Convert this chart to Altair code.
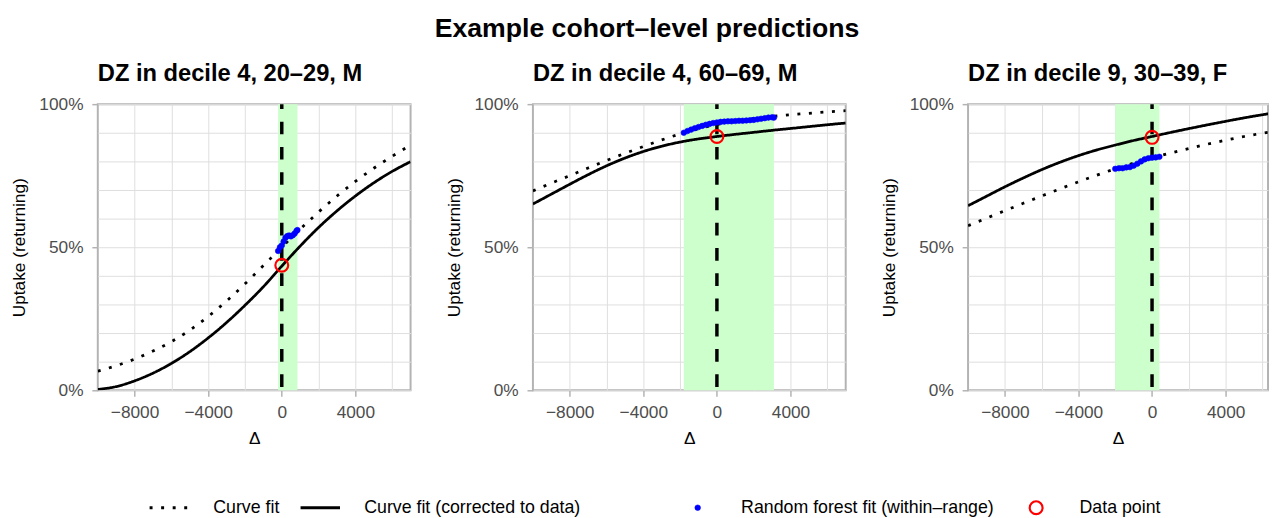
import altair as alt
import pandas as pd

FONT = "Liberation Sans"

MAIN_TITLE = "Example cohort–level predictions"
PANEL_TITLES = [
    "DZ in decile 4, 20–29, M",
    "DZ in decile 4, 60–69, M",
    "DZ in decile 9, 30–39, F",
]
CURVE_NAMES = ["Curve fit", "Curve fit (corrected to data)"]
POINT_NAMES = ["Random forest fit (within–range)", "Data point"]

X_CURVE = [-10000, -9000, -8000, -7000, -6000, -5000, -4000, -3000, -2000,
           -1000, 0, 1000, 2000, 3000, 4000, 5000, 6000, 7000]

P1_CURVE_FIT = [0.067, 0.086, 0.109, 0.137, 0.170, 0.210, 0.258, 0.312, 0.372,
                0.436, 0.500, 0.563, 0.623, 0.679, 0.730, 0.776, 0.818, 0.857]
P1_CORRECTED = [0.003, 0.013, 0.033, 0.060, 0.094, 0.135, 0.183, 0.237, 0.297,
                0.362, 0.434, 0.504, 0.569, 0.627, 0.679, 0.725, 0.765, 0.799]
P2_CURVE_FIT = [0.697, 0.724, 0.750, 0.777, 0.803, 0.828, 0.852, 0.875, 0.896,
                0.914, 0.929, 0.941, 0.950, 0.957, 0.963, 0.968, 0.973, 0.977]
P2_CORRECTED = [0.651, 0.6855, 0.720, 0.7535, 0.7845, 0.8115, 0.8345, 0.853,
                0.8675, 0.8785, 0.887, 0.8945, 0.9015, 0.9085, 0.915, 0.9215,
                0.928, 0.934]
P3_CURVE_FIT = [0.575, 0.6015, 0.6275, 0.6535, 0.679, 0.704, 0.7285, 0.752,
                0.774, 0.794, 0.812, 0.829, 0.845, 0.860, 0.874, 0.887,
                0.8985, 0.9085]
P3_CORRECTED = [0.645, 0.678, 0.711, 0.742, 0.771, 0.797, 0.820, 0.840, 0.857,
                0.873, 0.887, 0.901, 0.9145, 0.9275, 0.940, 0.952, 0.963,
                0.973]

# random forest predictions (within the observed range)
P1_RF_X = [-200, -100, 0, 100, 200, 300, 400, 500, 600, 700, 800, 850]
P1_RF_Y = [0.487, 0.500, 0.506, 0.520, 0.533, 0.539, 0.541, 0.538, 0.542,
           0.548, 0.557, 0.560]
P2_RF_X = [-1800, -1600, -1400, -1200, -1000, -800, -600, -400, -200, 0,
           200, 400, 600, 800, 1000, 1200, 1400, 1600, 1800, 2000, 2200,
           2400, 2600, 2800, 3000, 3100]
P2_RF_Y = [0.900, 0.906, 0.911, 0.916, 0.920, 0.924, 0.928, 0.931, 0.934,
           0.936, 0.938, 0.939, 0.940, 0.940, 0.941, 0.942, 0.942, 0.943,
           0.944, 0.945, 0.947, 0.949, 0.951, 0.953, 0.954, 0.953]
P3_RF_X = [-2000, -1800, -1600, -1400, -1200, -1000, -800, -600, -400, -200,
           0, 200, 400]
P3_RF_Y = [0.774, 0.776, 0.776, 0.779, 0.780, 0.785, 0.792, 0.800, 0.807,
           0.811, 0.813, 0.814, 0.816]

RANGE_LO = [-200, -1800, -2000]
RANGE_HI = [850, 3100, 400]
DATA_Y = [0.437, 0.887, 0.884]

X_MIN = -10000
X_MAX = [7000, 7000, 6303]   # third panel is cut off at the right edge
X_TICKS = [-8000, -6000, -4000, -2000, 0, 2000, 4000, 6000]
Y_TICKS = [0, 0.1, 0.2, 0.3, 0.4, 0.5, 0.6, 0.7, 0.8, 0.9, 1]

FITS = [P1_CURVE_FIT, P2_CURVE_FIT, P3_CURVE_FIT]
CORRS = [P1_CORRECTED, P2_CORRECTED, P3_CORRECTED]
RF_X = [P1_RF_X, P2_RF_X, P3_RF_X]
RF_Y = [P1_RF_Y, P2_RF_Y, P3_RF_Y]
WIDTHS = [317, 317, 304]

x_axis = alt.Axis(
    values=X_TICKS, format="d", labelFlush=False,
    labelExpr="datum.value % 4000 === 0 ? datum.label : ''",
    tickOpacity={"condition": {"test": "datum.value % 4000 === 0", "value": 1}, "value": 0},
    labelPadding=8, titlePadding=8,
)
y_axis = alt.Axis(
    values=Y_TICKS, format=".0%", labelFlush=False,
    labelExpr="(datum.value == 0 || datum.value == 0.5 || datum.value == 1) ? datum.label : ''",
    tickOpacity={"condition": {"test": "datum.value == 0 || datum.value == 0.5 || datum.value == 1", "value": 1}, "value": 0},
    labelPadding=9, titlePadding=11,
)

legend_lines = alt.Legend(
    title=None, orient="none", legendX=51, legendY=401, direction="horizontal",
    symbolType="stroke", symbolSize=1600, symbolStrokeWidth=3, symbolStrokeColor="black",
    labelFont=FONT, labelFontSize=18, labelColor="black", labelOffset=23,
    labelLimit=400, columnPadding=19, clipHeight=16, padding=0,
)
legend_points = alt.Legend(
    title=None, orient="none", legendX=599, legendY=401, direction="horizontal",
    symbolType="circle", labelFont=FONT, labelFontSize=18, labelColor="black",
    labelOffset=35, labelLimit=400, columnPadding=33, clipHeight=16, padding=0,
)


def panel(i):
    xscale = alt.Scale(domain=[X_MIN, X_MAX[i]], nice=False, zero=False)
    yscale = alt.Scale(domain=[0, 1], nice=False)
    xenc = alt.X("delta:Q", scale=xscale, axis=x_axis, title="Δ")
    yenc = alt.Y("uptake:Q", scale=yscale, axis=y_axis, title="Uptake (returning)")

    band_df = pd.DataFrame({"lo": [RANGE_LO[i]], "hi": [RANGE_HI[i]]})
    zero_df = pd.DataFrame({"delta": [0]})
    curve_df = pd.DataFrame({
        "delta": X_CURVE + X_CURVE,
        "uptake": FITS[i] + CORRS[i],
        "curve": [CURVE_NAMES[0]] * len(X_CURVE) + [CURVE_NAMES[1]] * len(X_CURVE),
    })
    pts_df = pd.DataFrame({
        "delta": RF_X[i] + [0],
        "uptake": RF_Y[i] + [DATA_Y[i]],
        "pt": [POINT_NAMES[0]] * len(RF_X[i]) + [POINT_NAMES[1]],
    })

    band = alt.Chart(band_df).mark_rect(color="#CCFFCC").encode(
        x=alt.X("lo:Q", scale=xscale, axis=x_axis, title="Δ"), x2="hi:Q"
    )
    vline = alt.Chart(zero_df).mark_rule(
        color="black", strokeWidth=3.5, strokeDash=[12.8, 12.8], strokeDashOffset=7.8
    ).encode(x=xenc)
    lines = alt.Chart(curve_df).mark_line(
        color="black", strokeWidth=2.8, clip=True, interpolate="monotone"
    ).encode(
        x=xenc, y=yenc,
        strokeDash=alt.StrokeDash(
            "curve:N",
            scale=alt.Scale(domain=CURVE_NAMES, range=[[3, 8.7], [1, 0]]),
            legend=legend_lines,
        ),
    )
    points = alt.Chart(pts_df).mark_point(shape="circle", opacity=1, filled=False).encode(
        x=xenc, y=yenc,
        stroke=alt.Stroke("pt:N", scale=alt.Scale(domain=POINT_NAMES, range=["#0000FF", "#FF0000"]), legend=legend_points),
        fill=alt.Fill("pt:N", scale=alt.Scale(domain=POINT_NAMES, range=["#0000FF", "transparent"]), legend=legend_points),
        size=alt.Size("pt:N", scale=alt.Scale(domain=POINT_NAMES, range=[32, 170]), legend=legend_points),
        strokeWidth=alt.StrokeWidth("pt:N", scale=alt.Scale(domain=POINT_NAMES, range=[0.6, 2.2]), legend=legend_points),
    )
    return alt.layer(band, vline, lines, points).properties(
        width=WIDTHS[i], height=290,
        title=alt.TitleParams(
            PANEL_TITLES[i], anchor="start", frame="group", fontSize=24,
            fontWeight="bold", font=FONT, color="black", offset=9,
        ),
    )


chart = alt.hconcat(panel(0), panel(1), panel(2), spacing=33).resolve_scale(
    strokeDash="shared", stroke="shared", fill="shared", size="shared", strokeWidth="shared"
).properties(
    title=alt.TitleParams(
        MAIN_TITLE, anchor="middle", fontSize=27, fontWeight="bold", font=FONT,
        color="black", offset=19, dx=8,
    ),
    padding={"left": 1, "top": 4, "right": 0, "bottom": 0},
).configure(font=FONT).configure_view(
    stroke="#B3B3B3", strokeWidth=2
).configure_axis(
    labelFont=FONT, titleFont=FONT, labelFontSize=17.5, titleFontSize=17.5,
    labelColor="#4D4D4D", titleColor="black", titleFontWeight="normal",
    tickColor="#B3B3B3", tickSize=6, tickWidth=1.5, gridColor="#DEDEDE",
    gridWidth=1, domain=False,
)

chart.save("out.html", embed_options={"renderer": "svg", "actions": False})
